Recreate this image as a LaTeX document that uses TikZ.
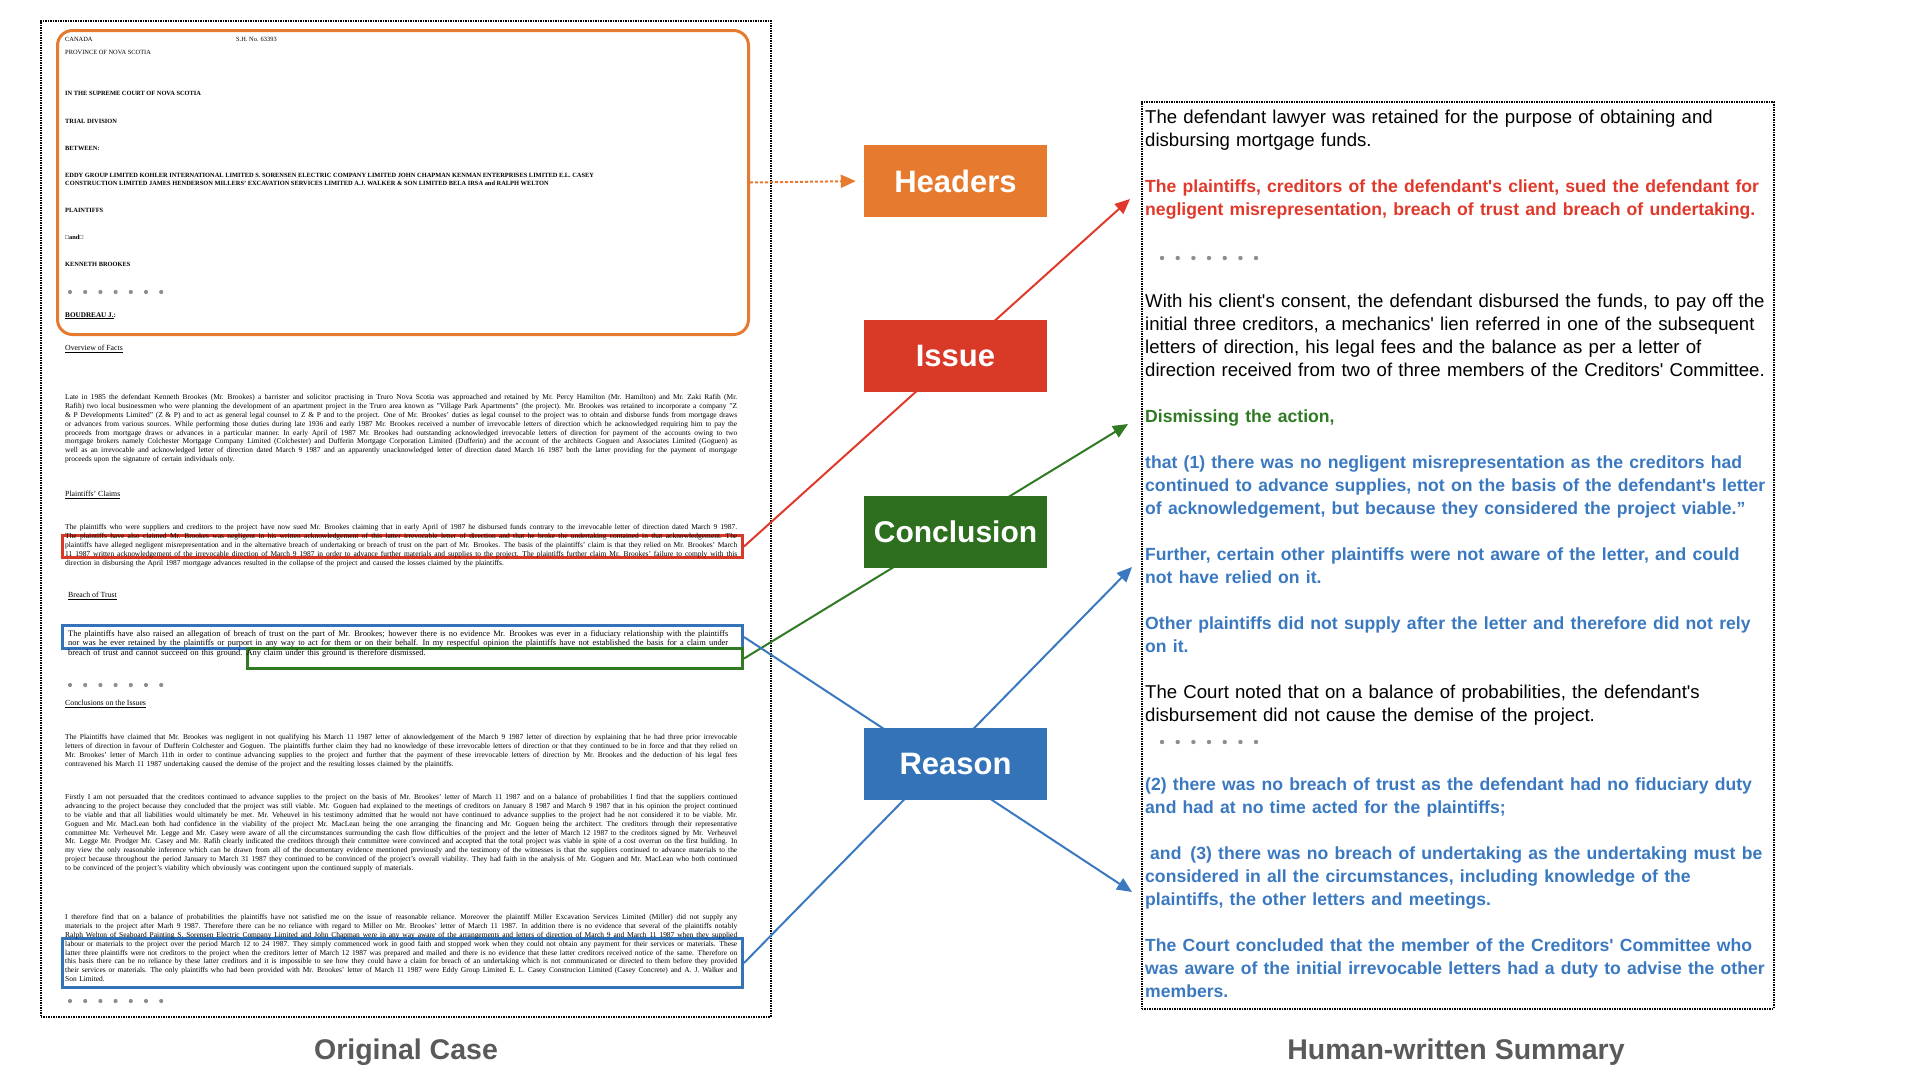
\documentclass[tikz,border=0pt]{standalone}
\usepackage{fontspec}
\setmainfont{Liberation Serif}
\setsansfont{Liberation Sans}
\usetikzlibrary{arrows.meta,positioning}

\definecolor{headorange}{HTML}{E67A2E}
\definecolor{issuered}{HTML}{D93A27}
\definecolor{issuetext}{HTML}{E0392B}
\definecolor{concgreen}{HTML}{2E6E1F}
\definecolor{conctext}{HTML}{2F7A22}
\definecolor{reasonblue}{HTML}{3473B7}
\definecolor{reasontext}{HTML}{3A78C0}
\definecolor{captiongray}{HTML}{5A5A5A}
\definecolor{dotgray}{HTML}{8E8E8E}

\newcommand\justline[1]{\hbox to\hsize{\spaceskip=0.25em plus 1fil minus 0.05em\relax #1}}
\newcommand\lastline[1]{\hbox{#1}}
\newcommand\hl[1]{\fontsize{17.6}{23}\selectfont\bfseries\color{#1}}
\newcommand\ap{\textquotesingle}

\begin{document}
\begin{tikzpicture}[x=1pt, y=1pt,
  pagebox/.style={rectangle, draw, densely dotted, line width=1.5pt, inner sep=0pt, anchor=north west},
  markbox/.style={rectangle, draw, line width=3pt, inner sep=0pt, anchor=north west},
  tagbox/.style={rectangle, minimum width=183pt, minimum height=72pt, text=white, font=\sffamily\bfseries\fontsize{31}{31}\selectfont},
  linkline/.style={line width=2pt, -{Triangle[length=15pt, width=13pt]}},
  headreg/.style={anchor=base west, inner sep=0pt, font=\fontsize{6.4}{7.7}\selectfont},
  headbold/.style={anchor=base west, inner sep=0pt, font=\fontsize{6.4}{7.7}\selectfont\bfseries},
  sectionhead/.style={anchor=base west, inner sep=0pt, font=\fontsize{7.8}{8.9}\selectfont},
  bodytext/.style={anchor=north west, inner sep=0pt, text width=672pt, font=\fontsize{7.45}{8.9}\selectfont},
  captiontext/.style={text=captiongray, font=\sffamily\bfseries\fontsize{28.5}{30}\selectfont}]
 \useasboundingbox (0,0) rectangle (1920,-1080);

 \node [pagebox, minimum width=730pt, minimum height=996pt] (casepage) at (40,-20) {};
 \node [pagebox, minimum width=632pt, minimum height=907pt] (summarypage) at (1141,-101) {};

 \node [markbox, draw=headorange, rounded corners=15pt, minimum width=691pt, minimum height=304pt] (headerbox) at (56,-29) {};
 \node [markbox, draw=issuered, minimum width=680pt, minimum height=22pt] (claimbox) at (61,-534) {};
 \node [markbox, draw=reasonblue, minimum width=680pt, minimum height=23pt] (trustbox) at (61,-624) {};
 \node [markbox, draw=conctext, minimum width=495pt, minimum height=20pt] (dismissbox) at (246,-647) {};
 \node [markbox, draw=reasonblue, minimum width=680pt, minimum height=49pt] (reliancebox) at (61,-937) {};

 \node [headreg] (canada)   at (65,-41)  {CANADA};
 \node [headreg] (docno)    at (236,-41) {S.H. No. 63393};
 \node [headreg] (province) at (65,-54)  {PROVINCE OF NOVA SCOTIA};
 \node [headbold] (court)      at (65,-95)  {IN THE SUPREME COURT OF NOVA SCOTIA};
 \node [headbold] (division)   at (65,-123) {TRIAL DIVISION};
 \node [headbold] (between)    at (65,-150) {BETWEEN:};
 \node [headbold] (partiesa)   at (65,-177) {EDDY GROUP LIMITED KOHLER INTERNATIONAL LIMITED S. SORENSEN ELECTRIC COMPANY LIMITED JOHN CHAPMAN KENMAN ENTERPRISES LIMITED E.L. CASEY};
 \node [headbold] (partiesb)   at (65,-185) {CONSTRUCTION LIMITED JAMES HENDERSON MILLERS' EXCAVATION SERVICES LIMITED A.J. WALKER \& SON LIMITED BELA IRSA and RALPH WELTON};
 \node [headbold] (plaintiffs) at (65,-212) {PLAINTIFFS};
 \node [headbold] (andline)    at (65,-239) {□and□};
 \node [headbold] (defendant)  at (65,-266) {KENNETH BROOKES};
 \node [headbold, font=\fontsize{7.2}{8}\selectfont\bfseries] (judge) at (65,-317) {\underline{BOUDREAU J.}:};

 \node [sectionhead] (factshead) at (65,-350.5) {\underline{Overview of Facts}};
 \node [bodytext] (factstext) at (65,-394) {%
  \justline{Late in 1985 the defendant Kenneth Brookes (Mr. Brookes) a barrister and solicitor practising in Truro Nova Scotia was approached and retained by Mr. Percy Hamilton (Mr. Hamilton) and Mr. Zaki Rafih (Mr.}
  \justline{Rafih) two local businessmen who were planning the development of an apartment project in the Truro area known as "Village Park Apartments" (the project). Mr. Brookes was retained to incorporate a company "Z}
  \justline{\& P Developments Limited" (Z \& P) and to act as general legal counsel to Z \& P and to the project. One of Mr. Brookes' duties as legal counsel to the project was to obtain and disburse funds from mortgage draws}
  \justline{or advances from various sources. While performing those duties during late 1936 and early 1987 Mr. Brookes received a number of irrevocable letters of direction which he acknowledged requiring him to pay the}
  \justline{proceeds from mortgage draws or advances in a particular manner. In early April of 1987 Mr. Brookes had outstanding acknowledged irrevocable letters of direction for payment of the accounts owing to two}
  \justline{mortgage brokers namely Colchester Mortgage Company Limited (Colchester) and Dufferin Mortgage Corporation Limited (Dufferin) and the account of the architects Goguen and Associates Limited (Goguen) as}
  \justline{well as an irrevocable and acknowledged letter of direction dated March 9 1987 and an apparently unacknowledged letter of direction dated March 16 1987 both the latter providing for the payment of mortgage}
  \lastline{proceeds upon the signature of certain individuals only.}};

 \node [sectionhead] (claimshead) at (65,-496.5) {\underline{Plaintiffs' Claims}};
 \node [bodytext] (claimstext) at (65,-524) {%
  \justline{The plaintiffs who were suppliers and creditors to the project have now sued Mr. Brookes claiming that in early April of 1987 he disbursed funds contrary to the irrevocable letter of direction dated March 9 1987.}
  \justline{The plaintiffs have also claimed Mr. Brookes was negligent in his written acknowledgement of this latter irrevocable letter of direction and that he broke the undertaking contained in that acknowledgement. The}
  \justline{plaintiffs have alleged negligent misrepresentation and in the alternative breach of undertaking or breach of trust on the part of Mr. Brookes. The basis of the plaintiffs' claim is that they relied on Mr. Brookes' March}
  \justline{11 1987 written acknowledgement of the irrevocable direction of March 9 1987 in order to advance further materials and supplies to the project. The plaintiffs further claim Mr. Brookes' failure to comply with this}
  \lastline{direction in disbursing the April 1987 mortgage advances resulted in the collapse of the project and caused the losses claimed by the plaintiffs.}};

 \node [sectionhead] (trusthead) at (68,-597.5) {\underline{Breach of Trust}};
 \node [bodytext, text width=660pt, font=\fontsize{8.4}{9.8}\selectfont] (trusttext) at (68,-630) {%
  \justline{The plaintiffs have also raised an allegation of breach of trust on the part of Mr. Brookes; however there is no evidence Mr. Brookes was ever in a fiduciary relationship with the plaintiffs}
  \justline{nor was he ever retained by the plaintiffs or purport in any way to act for them or on their behalf. In my respectful opinion the plaintiffs have not established the basis for a claim under}
  \lastline{breach of trust and cannot succeed on this ground. Any claim under this ground is therefore dismissed.}};

 \node [sectionhead] (issueshead) at (65,-705.5) {\underline{Conclusions on the Issues}};
 \node [bodytext] (issuestexta) at (65,-734) {%
  \justline{The Plaintiffs have claimed that Mr. Brookes was negligent in not qualifying his March 11 1987 letter of aknowledgement of the March 9 1987 letter of direction by explaining that he had three prior irrevocable}
  \justline{letters of direction in favour of Dufferin Colchester and Goguen. The plaintiffs further claim they had no knowledge of these irrevocable letters of direction or that they continued to be in force and that they relied on}
  \justline{Mr. Brookes' letter of March 11th in order to continue advancing supplies to the project and further that the payment of these irrevocable letters of direction by Mr. Brookes and the deduction of his legal fees}
  \lastline{contravened his March 11 1987 undertaking caused the demise of the project and the resulting losses claimed by the plaintiffs.}};
 \node [bodytext] (issuestextb) at (65,-794) {%
  \justline{Firstly I am not persuaded that the creditors continued to advance supplies to the project on the basis of Mr. Brookes' letter of March 11 1987 and on a balance of probabilities I find that the suppliers continued}
  \justline{advancing to the project because they concluded that the project was still viable. Mr. Goguen had explained to the meetings of creditors on January 8 1987 and March 9 1987 that in his opinion the project continued}
  \justline{to be viable and that all liabilities would ultimately be met. Mr. Veheuvel in his testimony admitted that he would not have continued to advance supplies to the project had he not considered it to be viable. Mr.}
  \justline{Goguen and Mr. MacLean both had confidence in the viability of the project Mr. MacLean being the one arranging the financing and Mr. Goguen being the architect. The creditors through their representative}
  \justline{committee Mr. Verheuvel Mr. Legge and Mr. Casey were aware of all the circumstances surrounding the cash flow difficulties of the project and the letter of March 12 1987 to the creditors signed by Mr. Verheuvel}
  \justline{Mr. Legge Mr. Prodger Mr. Casey and Mr. Rafih clearly indicated the creditors through their committee were convinced and accepted that the total project was viable in spite of a cost overrun on the first building. In}
  \justline{my view the only reasonable inference which can be drawn from all of the documentary evidence mentioned previously and the testimony of the witnesses is that the suppliers continued to advance materials to the}
  \justline{project because throughout the period January to March 31 1987 they continued to be convinced of the project's overall viability. They had faith in the analysis of Mr. Goguen and Mr. MacLean who both continued}
  \lastline{to be convinced of the project's viability which obviously was contingent upon the continued supply of materials.}};
 \node [bodytext] (issuestextc) at (65,-914) {%
  \justline{I therefore find that on a balance of probabilities the plaintiffs have not satisfied me on the issue of reasonable reliance. Moreover the plaintiff Miller Excavation Services Limited (Miller) did not supply any}
  \justline{materials to the project after Marh 9 1987. Therefore there can be no reliance with regard to Miller on Mr. Brookes' letter of March 11 1987. In addition there is no evidence that several of the plaintiffs notably}
  \justline{Ralph Welton of Seaboard Painting S. Sorensen Electric Company Limited and John Chapman were in any way aware of the arrangements and letters of direction of March 9 and March 11 1987 when they supplied}
  \justline{labour or materials to the project over the period March 12 to 24 1987. They simply commenced work in good faith and stopped work when they could not obtain any payment for their services or materials. These}
  \justline{latter three plaintiffs were not creditors to the project when the creditors letter of March 12 1987 was prepared and mailed and there is no evidence that these latter creditors received notice of the same. Therefore on}
  \justline{this basis there can be no reliance by these latter creditors and it is impossible to see how they could have a claim for breach of an undertaking which is not communicated or directed to them before they provided}
  \justline{their services or materials. The only plaintiffs who had been provided with Mr. Brookes' letter of March 11 1987 were Eddy Group Limited E. L. Casey Construcion Limited (Casey Concrete) and A. J. Walker and}
  \lastline{Son Limited.}};

 \fill [dotgray] (70,-292) circle (2.1) (85.2,-292) circle (2.1) (100.4,-292) circle (2.1) (115.6,-292) circle (2.1) (130.8,-292) circle (2.1) (146,-292) circle (2.1) (161.2,-292) circle (2.1);
 \fill [dotgray] (70,-685) circle (2.1) (85.2,-685) circle (2.1) (100.4,-685) circle (2.1) (115.6,-685) circle (2.1) (130.8,-685) circle (2.1) (146,-685) circle (2.1) (161.2,-685) circle (2.1);
 \fill [dotgray] (70,-1001) circle (2.1) (85.2,-1001) circle (2.1) (100.4,-1001) circle (2.1) (115.6,-1001) circle (2.1) (130.8,-1001) circle (2.1) (146,-1001) circle (2.1) (161.2,-1001) circle (2.1);
 \fill [dotgray] (1162,-258) circle (2.2) (1177.7,-258) circle (2.2) (1193.4,-258) circle (2.2) (1209,-258) circle (2.2) (1224.7,-258) circle (2.2) (1240.4,-258) circle (2.2) (1256,-258) circle (2.2);
 \fill [dotgray] (1162,-742) circle (2.2) (1177.7,-742) circle (2.2) (1193.4,-742) circle (2.2) (1209,-742) circle (2.2) (1224.7,-742) circle (2.2) (1240.4,-742) circle (2.2) (1256,-742) circle (2.2);

 \node [anchor=north west, inner sep=0pt, text width=640pt, align=left, font=\sffamily\fontsize{18.6}{23}\selectfont] (summarytext) at (1145,-110) {%
  The defendant lawyer was retained for the purpose of obtaining and\\
  disbursing mortgage funds.\\[23pt]
  {\hl{issuetext}The plaintiffs, creditors of the defendant\ap s client, sued the defendant for\\
  negligent misrepresentation, breach of trust and breach of undertaking.}\\[69pt]
  With his client\ap s consent, the defendant disbursed the funds, to pay off the\\
  initial three creditors, a mechanics\ap{} lien referred in one of the subsequent\\
  letters of direction, his legal fees and the balance as per a letter of\\
  direction received from two of three members of the Creditors\ap{} Committee.\\[23pt]
  {\hl{conctext}Dismissing the action,}\\[23pt]
  {\hl{reasontext}that (1) there was no negligent misrepresentation as the creditors had\\
  continued to advance supplies, not on the basis of the defendant\ap s letter\\
  of acknowledgement, but because they considered the project viable.”\\[23pt]
  Further, certain other plaintiffs were not aware of the letter, and could\\
  not have relied on it.\\[23pt]
  Other plaintiffs did not supply after the letter and therefore did not rely\\
  on it.}\\[23pt]
  The Court noted that on a balance of probabilities, the defendant\ap s\\
  disbursement did not cause the demise of the project.\\[46pt]
  {\hl{reasontext}(2) there was no breach of trust as the defendant had no fiduciary duty\\
  and had at no time acted for the plaintiffs;\\[23pt]
  \hspace*{5pt}and\hspace{9pt}(3) there was no breach of undertaking as the undertaking must be\\
  considered in all the circumstances, including knowledge of the\\
  plaintiffs, the other letters and meetings.\\[23pt]
  The Court concluded that the member of the Creditors\ap{} Committee who\\
  was aware of the initial irrevocable letters had a duty to advise the other\\
  members.}};

 \coordinate (issuetip) at (1130,-199);
 \coordinate (conclusiontip) at (1128,-424);
 \coordinate (reasontipa) at (1132,-567);
 \coordinate (reasontipb) at (1132,-892);

 \draw [linkline, issuetext] (claimbox.east) -- (issuetip);
 \draw [linkline, conctext] (dismissbox.east) -- (conclusiontip);
 \draw [linkline, reasontext] (trustbox.east) -- (reasontipb);
 \draw [linkline, reasontext] (reliancebox.east) -- (reasontipa);

 \node [tagbox, fill=headorange] (headers) at (955.5,-181) {Headers};
 \node [tagbox, fill=issuered, below=103pt of headers] (issue) {Issue};
 \node [tagbox, fill=concgreen, below=103pt of issue, font=\sffamily\bfseries\fontsize{30}{30}\selectfont] (conclusion) {Conclusion};
 \node [tagbox, fill=reasonblue, below=160pt of conclusion] (reason) {Reason};

 \draw [linkline, headorange, densely dashed, shorten >=8pt] (headerbox.east) -- (headers.west);

 \node [captiontext] (casecaption) at (406,-1052) {Original Case};
 \node [captiontext] (summarycaption) at (1456,-1052) {Human-written Summary};
\end{tikzpicture}
\end{document}
